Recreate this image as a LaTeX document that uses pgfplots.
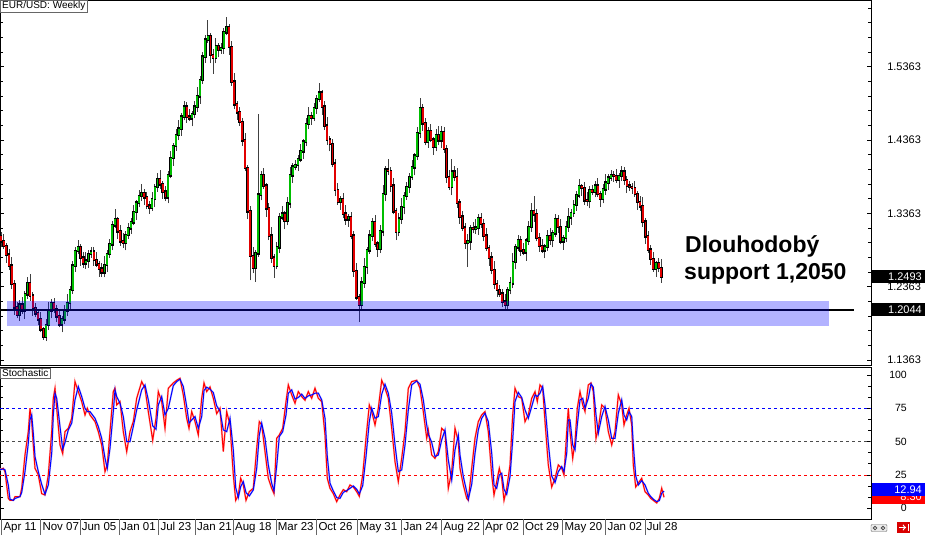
\documentclass[border=0pt]{standalone}
\usepackage{pgfplots}
\pgfplotsset{compat=1.18}
\usepackage{pgfplotstable}
\usepackage{fontspec}
\setmainfont{Liberation Sans}
\definecolor{cgreen}{RGB}{0,190,0}
\definecolor{cred}{RGB}{225,0,0}

\pgfplotstableread{
i o h l c
0 1.305 1.311 1.290 1.298
1 1.298 1.308 1.288 1.292
2 1.292 1.296 1.269 1.280
3 1.280 1.288 1.259 1.265
4 1.265 1.277 1.233 1.240
5 1.240 1.245 1.198 1.208
6 1.208 1.215 1.193 1.198
7 1.198 1.218 1.190 1.212
8 1.212 1.222 1.199 1.203
9 1.203 1.230 1.192 1.226
10 1.226 1.249 1.220 1.241
11 1.241 1.253 1.217 1.224
12 1.224 1.229 1.197 1.207
13 1.207 1.214 1.195 1.200
14 1.200 1.206 1.184 1.192
15 1.192 1.202 1.174 1.178
16 1.178 1.182 1.164 1.168
17 1.168 1.192 1.162 1.184
18 1.184 1.215 1.177 1.203
19 1.203 1.219 1.193 1.214
20 1.214 1.221 1.200 1.205
21 1.205 1.211 1.188 1.196
22 1.196 1.206 1.181 1.185
23 1.185 1.196 1.174 1.192
24 1.192 1.212 1.186 1.204
25 1.204 1.226 1.197 1.214
26 1.214 1.237 1.204 1.232
27 1.232 1.272 1.227 1.265
28 1.265 1.291 1.257 1.285
29 1.285 1.300 1.281 1.290
30 1.290 1.294 1.265 1.276
31 1.276 1.284 1.262 1.268
32 1.268 1.284 1.261 1.272
33 1.272 1.286 1.262 1.281
34 1.281 1.291 1.276 1.284
35 1.284 1.290 1.265 1.273
36 1.273 1.283 1.263 1.267
37 1.267 1.271 1.250 1.261
38 1.261 1.269 1.250 1.256
39 1.256 1.278 1.249 1.266
40 1.266 1.286 1.256 1.281
41 1.281 1.301 1.276 1.294
42 1.294 1.326 1.286 1.320
43 1.320 1.342 1.316 1.328
44 1.328 1.332 1.301 1.312
45 1.312 1.320 1.292 1.298
46 1.298 1.310 1.289 1.296
47 1.296 1.312 1.286 1.307
48 1.307 1.323 1.302 1.316
49 1.316 1.330 1.308 1.324
50 1.324 1.348 1.320 1.338
51 1.338 1.355 1.327 1.351
52 1.351 1.368 1.345 1.360
53 1.360 1.376 1.353 1.364
54 1.364 1.369 1.348 1.358
55 1.358 1.365 1.342 1.347
56 1.347 1.353 1.336 1.344
57 1.344 1.366 1.340 1.356
58 1.356 1.376 1.345 1.372
59 1.372 1.391 1.366 1.383
60 1.383 1.395 1.369 1.376
61 1.376 1.381 1.356 1.366
62 1.366 1.373 1.353 1.358
63 1.358 1.394 1.350 1.388
64 1.388 1.422 1.384 1.412
65 1.412 1.432 1.401 1.428
66 1.428 1.451 1.422 1.443
67 1.443 1.464 1.436 1.452
68 1.452 1.473 1.442 1.468
69 1.468 1.489 1.463 1.482
70 1.482 1.488 1.460 1.468
71 1.468 1.478 1.462 1.466
72 1.466 1.476 1.455 1.472
73 1.472 1.490 1.466 1.482
74 1.482 1.508 1.475 1.496
75 1.496 1.523 1.486 1.518
76 1.518 1.557 1.513 1.550
77 1.550 1.579 1.542 1.573
78 1.573 1.600 1.569 1.578
79 1.578 1.582 1.541 1.552
80 1.552 1.560 1.527 1.548
81 1.548 1.576 1.541 1.564
82 1.564 1.569 1.549 1.559
83 1.559 1.569 1.554 1.562
84 1.562 1.589 1.554 1.583
85 1.583 1.604 1.579 1.590
86 1.590 1.594 1.552 1.563
87 1.563 1.571 1.510 1.516
88 1.516 1.528 1.478 1.485
89 1.485 1.490 1.464 1.474
90 1.474 1.481 1.456 1.461
91 1.461 1.467 1.428 1.436
92 1.436 1.446 1.394 1.398
93 1.398 1.402 1.328 1.339
94 1.339 1.347 1.245 1.278
95 1.278 1.290 1.255 1.262
96 1.262 1.287 1.243 1.282
97 1.282 1.472 1.277 1.362
98 1.362 1.394 1.354 1.388
99 1.388 1.398 1.370 1.374
100 1.374 1.378 1.332 1.343
101 1.343 1.351 1.300 1.306
102 1.306 1.318 1.269 1.276
103 1.276 1.281 1.248 1.265
104 1.265 1.297 1.260 1.290
105 1.290 1.337 1.282 1.331
106 1.331 1.346 1.327 1.336
107 1.336 1.340 1.315 1.326
108 1.326 1.358 1.320 1.350
109 1.350 1.400 1.343 1.388
110 1.388 1.405 1.378 1.400
111 1.400 1.409 1.395 1.402
112 1.402 1.416 1.394 1.410
113 1.410 1.431 1.406 1.421
114 1.421 1.438 1.410 1.434
115 1.434 1.466 1.428 1.458
116 1.458 1.481 1.451 1.469
117 1.469 1.474 1.457 1.467
118 1.467 1.487 1.462 1.480
119 1.480 1.498 1.472 1.492
120 1.492 1.514 1.488 1.501
121 1.501 1.505 1.471 1.482
122 1.482 1.490 1.450 1.456
123 1.456 1.468 1.430 1.437
124 1.437 1.442 1.421 1.431
125 1.431 1.438 1.399 1.404
126 1.404 1.410 1.360 1.368
127 1.368 1.378 1.348 1.352
128 1.352 1.360 1.341 1.356
129 1.356 1.364 1.330 1.336
130 1.336 1.348 1.321 1.328
131 1.328 1.336 1.318 1.331
132 1.331 1.338 1.301 1.306
133 1.306 1.312 1.250 1.258
134 1.258 1.268 1.218 1.222
135 1.222 1.226 1.188 1.212
136 1.212 1.250 1.206 1.242
137 1.242 1.275 1.235 1.263
138 1.263 1.291 1.253 1.286
139 1.286 1.313 1.281 1.306
140 1.306 1.330 1.298 1.324
141 1.324 1.334 1.291 1.295
142 1.295 1.299 1.277 1.288
143 1.288 1.320 1.282 1.312
144 1.312 1.375 1.305 1.363
145 1.363 1.401 1.353 1.396
146 1.396 1.410 1.389 1.394
147 1.394 1.400 1.366 1.374
148 1.374 1.384 1.335 1.339
149 1.339 1.343 1.300 1.311
150 1.311 1.337 1.305 1.329
151 1.329 1.357 1.322 1.345
152 1.345 1.365 1.335 1.360
153 1.360 1.379 1.355 1.372
154 1.372 1.392 1.364 1.386
155 1.386 1.409 1.382 1.399
156 1.399 1.419 1.388 1.415
157 1.415 1.454 1.409 1.446
158 1.446 1.494 1.439 1.480
159 1.480 1.485 1.449 1.459
160 1.459 1.466 1.429 1.434
161 1.434 1.454 1.426 1.448
162 1.448 1.458 1.433 1.437
163 1.437 1.441 1.416 1.427
164 1.427 1.451 1.421 1.443
165 1.443 1.455 1.429 1.436
166 1.436 1.455 1.426 1.447
167 1.447 1.454 1.419 1.424
168 1.424 1.430 1.378 1.386
169 1.386 1.396 1.368 1.372
170 1.372 1.410 1.361 1.393
171 1.393 1.401 1.380 1.386
172 1.386 1.398 1.344 1.351
173 1.351 1.356 1.322 1.332
174 1.332 1.339 1.312 1.317
175 1.317 1.323 1.288 1.296
176 1.296 1.308 1.263 1.298
177 1.298 1.320 1.287 1.316
178 1.316 1.324 1.309 1.315
179 1.315 1.329 1.308 1.317
180 1.317 1.335 1.307 1.330
181 1.330 1.337 1.317 1.322
182 1.322 1.328 1.298 1.306
183 1.306 1.316 1.285 1.289
184 1.289 1.293 1.265 1.276
185 1.276 1.284 1.253 1.259
186 1.259 1.271 1.233 1.240
187 1.240 1.245 1.222 1.232
188 1.232 1.239 1.222 1.227
189 1.227 1.233 1.208 1.216
190 1.216 1.226 1.204 1.212
191 1.212 1.236 1.206 1.232
192 1.232 1.249 1.226 1.241
193 1.241 1.282 1.234 1.270
194 1.270 1.295 1.260 1.290
195 1.290 1.307 1.285 1.300
196 1.300 1.306 1.278 1.286
197 1.286 1.296 1.279 1.283
198 1.283 1.303 1.272 1.299
199 1.299 1.326 1.293 1.318
200 1.318 1.351 1.311 1.339
201 1.339 1.360 1.325 1.335
202 1.335 1.342 1.298 1.303
203 1.303 1.309 1.284 1.292
204 1.292 1.302 1.282 1.286
205 1.286 1.295 1.275 1.291
206 1.291 1.313 1.285 1.305
207 1.305 1.317 1.293 1.300
208 1.300 1.314 1.290 1.309
209 1.309 1.335 1.304 1.328
210 1.328 1.334 1.310 1.318
211 1.318 1.328 1.294 1.298
212 1.298 1.307 1.287 1.303
213 1.303 1.326 1.297 1.318
214 1.318 1.343 1.311 1.331
215 1.331 1.342 1.321 1.337
216 1.337 1.355 1.332 1.348
217 1.348 1.367 1.340 1.361
218 1.361 1.383 1.357 1.373
219 1.373 1.377 1.360 1.371
220 1.371 1.379 1.348 1.354
221 1.354 1.366 1.346 1.353
222 1.353 1.373 1.343 1.368
223 1.368 1.375 1.361 1.366
224 1.366 1.380 1.358 1.374
225 1.374 1.384 1.359 1.363
226 1.363 1.367 1.345 1.356
227 1.356 1.377 1.350 1.369
228 1.369 1.390 1.362 1.378
229 1.378 1.390 1.368 1.385
230 1.385 1.395 1.380 1.388
231 1.388 1.394 1.379 1.387
232 1.387 1.397 1.378 1.382
233 1.382 1.391 1.371 1.387
234 1.387 1.401 1.381 1.393
235 1.393 1.400 1.375 1.382
236 1.382 1.387 1.364 1.374
237 1.374 1.381 1.367 1.372
238 1.372 1.378 1.363 1.371
239 1.371 1.381 1.359 1.363
240 1.363 1.367 1.341 1.352
241 1.352 1.360 1.340 1.346
242 1.346 1.358 1.318 1.325
243 1.325 1.330 1.295 1.305
244 1.305 1.312 1.282 1.287
245 1.287 1.293 1.266 1.274
246 1.274 1.284 1.257 1.261
247 1.261 1.272 1.250 1.268
248 1.268 1.276 1.256 1.262
249 1.262 1.274 1.242 1.2493
}\candles

\pgfplotstableread{
x k d
0 29 29
3.3 30 29.5
5 27.5 28.8
8.3 7.5 17.5
10 6 6.8
13.3 6 6
15 8.75 7.4
20 8.75 8.8
21.7 15 11.9
25 40 27.5
28.3 57.5 48.8
30 75 66.3
31.7 65 70
33.3 47.5 56.3
35 30 38.8
38.3 25 27.5
41.7 11 18
45 10 10.5
48.3 25 17.5
51.7 57.5 41.3
53.3 82.5 70
55 90 86.3
56.7 75 82.5
60 47.5 61.3
62.7 41 44.3
65 57.5 49.3
68.3 60 58.8
71.7 67.5 63.8
75 95 81.3
78.3 87.5 91.3
81.7 80 83.8
85 70 75
87.3 75 72.5
90 70 72.5
95 65 67.5
98.3 57.5 61.3
101.7 47.5 52.5
105 27.5 37.5
107.3 32.5 30
110 57.5 45
113.3 87.5 72.5
115 90 88.8
116.7 77.5 83.8
120 80 78.8
123.3 57.5 68.8
126.7 42.5 50
130 57.5 50
133.3 65 61.3
136.7 82.5 73.8
141.7 95 88.8
145 90 92.5
148.3 72.5 81.3
152.7 51 61.8
156 67.5 59.3
158.3 87.5 77.5
161.7 80 83.8
165 60 70
168.3 90 75
173.3 94 92
176.7 96 95
180 97.5 96.8
183.3 85 91.3
186.7 67.5 76.3
189 60 63.8
191.7 72.5 66.3
195 65 68.8
198.3 55 60
201.7 82.5 68.8
204 94 88.3
206.7 87.5 90.8
210 91 89.3
213.3 82.5 86.8
216.7 71 76.8
220 75 73
223.3 42.5 58.8
226.7 72.5 57.5
230 62.5 67.5
233.3 25 43.8
235.7 6 15.5
238.3 10 8
240.7 22.5 16.3
243.3 17.5 20
246 6 11.8
249.3 12.5 9.3
253.3 15 13.8
256.7 45 30
259.3 65 55
261.7 62.5 63.8
265 42.5 52.5
268.3 22.5 32.5
271.7 15 18.8
274 11 13
276.7 52.5 31.8
279.3 55 53.8
282.7 60 57.5
286 80 70
288.3 92.5 86.3
291.7 85 88.8
295 78.75 81.9
298.3 87.5 83.1
301.7 83.75 85.6
305 81 82.4
308.3 87.5 84.3
311.7 82.5 85
315 90 86.3
318.3 82.5 86.3
321.7 80 81.3
325 55 67.5
327.3 22.5 38.8
330 15 18.8
333.3 11 13
336.7 5 8
340 10 7.5
343.3 14 12
346.7 12.5 13.3
350 17.5 15
353.3 16 16.8
356.7 12.5 14.3
359.3 9 10.8
362.7 25 17
366 52.5 38.8
369.3 77.5 65
371.7 72.5 75
375 62.5 67.5
378.3 75 68.8
381.7 96 85.5
385 90 93
388.3 82.5 86.3
391.7 60 71.3
395 35 47.5
398.3 20 27.5
401.7 37.5 28.8
405 57.5 47.5
408.3 90 73.8
411.7 95 92.5
416.7 96 95.5
420 90 93
423.3 72.5 81.3
426.7 52.5 62.5
428.3 58.75 55.6
431.7 40 49.4
435 37.5 38.8
438.3 42.5 40
441.7 60 51.3
445 57.5 58.8
448.3 15 36.3
451.7 27.5 21.3
455 60 43.8
458.3 50 55
460 30 40
463.3 17.5 23.8
466.7 7.5 12.5
468.3 6 6.8
471.7 30 18
475 52.5 41.3
478.3 65 58.8
481.7 70 67.5
485 72.5 71.3
488.3 57.5 65
491.7 25 41.3
494 10 17.5
496.7 20 15
499.3 30 25
501.7 22.5 26.3
504 6 14.3
506.7 15 10.5
510 32.5 23.8
512.7 70 51.3
515 90 80
518.3 83.75 86.9
521.7 82.5 83.1
525 65 73.8
528.3 70 67.5
531.7 82.5 76.3
535 87.5 85
537.3 80 83.8
540 92.5 86.3
542.7 90 91.3
545 65 77.5
548.3 32.5 48.8
551.7 16 24.3
555 22.5 19.3
558.3 32.5 27.5
561.7 30 31.3
564 25 27.5
566.7 57.5 41.3
568.3 75 66.3
570 57.5 66.3
572.7 37.5 47.5
575 50 43.8
577.3 75 62.5
580 87.5 81.3
582.7 77.5 82.5
585 72.5 75
588.3 92.5 82.5
591 94 93.3
593.3 87.5 90.8
596 52.5 70
598.3 60 56.3
601.7 77.5 68.8
605 75 76.3
608.3 57.5 66.3
611.7 47.5 52.5
615 57.5 52.5
618.3 85 71.3
621.7 77.5 81.3
624 62.5 70
626.7 70 66.3
629 75 72.5
631.7 62.5 68.8
633.3 32.5 47.5
635.7 16 24.3
638.3 19 17.5
641.7 22.5 20.8
645 12.5 17.5
648.3 10 11.3
650.7 7.5 8.8
653.3 6 6.8
656.7 4 5
659.3 7.5 5.8
661.7 15 11.3
664 8.3 12.94
}\stoch

\begin{document}
\begin{tikzpicture}
\useasboundingbox (0pt,0pt) rectangle (925pt,535pt);
\begin{axis}[
  at={(0pt,169pt)}, anchor=south west, scale only axis,
  width=871pt, height=365pt,
  xmin=-0.377, xmax=328.06, ymin=1.1282, ymax=1.6259,
  xtick=\empty,
  ytick={1.1363,1.2363,1.3363,1.4363,1.5363},
  minor ytick={1.1563,1.1763,1.1963,1.2163,1.2563,1.2763,1.2963,1.3163,1.3563,1.3763,1.3963,1.4163,1.4563,1.4763,1.4963,1.5163,1.5563,1.5763,1.5963,1.6163},
  ytick pos=both, yticklabel pos=right,
  tick align=inside, major tick length=4pt, minor tick length=3pt,
  tick style={black, line width=0.8pt},
  yticklabel style={font=\fontsize{11}{13}\selectfont, anchor=west, xshift=12.7pt,
    /pgf/number format/.cd, fixed, fixed zerofill, precision=4, assume math mode=true},
  axis line style={line width=1pt},
  colormap={rg}{color=(cred) color=(cgreen)},
  point meta min=-0.0001, point meta max=0.0001,
]
\addplot[quiver={u=0, v=\thisrow{h}-\thisrow{l}, every arrow/.append style={draw=black!75, line width=0.75pt}}] table[x=i, y=l] {\candles};
\addplot[quiver={u=0, v=\thisrow{c}-\thisrow{o}, every arrow/.append style={draw=black, line width=2.6pt, line cap=rect}}] table[x=i, y=o] {\candles};
\addplot[quiver={u=0, v=\thisrow{c}-\thisrow{o}, every arrow/.append style={draw=mapped color, line width=1.8pt}}, point meta=\thisrow{c}-\thisrow{o}] table[x=i, y=o] {\candles};
\addplot[black, line width=1.4pt] coordinates {(-0.377,1.2044) (321.6,1.2044)};
\addplot[draw=none, fill=blue, fill opacity=0.3] coordinates {(2.26,1.1831) (312.2,1.1831) (312.2,1.2168) (2.26,1.2168)} -- cycle;
\end{axis}

\begin{axis}[
  at={(0pt,16pt)}, anchor=south west, scale only axis,
  width=871pt, height=151pt,
  xmin=0, xmax=871, ymin=-8, ymax=105.2,
  ytick={0,25,50,75,100},
  minor ytick={8.33,16.67,33.33,41.67,58.33,66.67,83.33,91.67},
  ytick pos=both, yticklabel pos=right,
  tick align=inside, major tick length=4pt, minor tick length=3pt,
  tick style={black, line width=0.8pt},
  yticklabel style={font=\fontsize{10.5}{12}\selectfont, anchor=east, xshift=39.3pt,
    /pgf/number format/assume math mode=true},
  xtick={1.7,40.7,80,119.3,158.7,195.3,233.3,276,316.7,357.7,401.7,441.7,483.3,523.3,562.7,605.7,645},
  xticklabels={Apr 11,Nov 07,Jun 05,Jan 01,Jul 23,Jan 21,Aug 18,Mar 23,Oct 26,May 31,Jan 24,Aug 22,Apr 02,Oct 29,May 20,Jan 02,Jul 28},
  every major x tick/.append style={draw=none},
  xticklabel style={font=\fontsize{11.5}{13}\selectfont, anchor=north west, xshift=-1.7pt},
  axis line style={line width=1pt},
]
\addplot[blue, line width=0.8pt, dash pattern=on 3pt off 3pt] coordinates {(0,75) (871,75)};
\addplot[black!70, line width=0.8pt, dash pattern=on 3pt off 3pt] coordinates {(0,50) (871,50)};
\addplot[red, line width=0.8pt, dash pattern=on 3pt off 3pt] coordinates {(0,25) (871,25)};
\addplot[red!30, line width=1.8pt] table[x=x, y=k] {\stoch};
\addplot[blue!25, line width=1.8pt] table[x=x, y=d] {\stoch};
\addplot[red, line width=1pt] table[x=x, y=k] {\stoch};
\addplot[blue, line width=1pt] table[x=x, y=d] {\stoch};
\end{axis}

\foreach \xx in {1.7,40.7,80,119.3,158.7,195.3,233.3,276,316.7,357.7,401.7,441.7,483.3,523.3,562.7,605.7,645}
  \draw[black!60, line width=0.8pt] (\xx pt,0pt) -- (\xx pt,16pt);

\node[fill=black, text=white, anchor=east, inner xsep=3pt, inner ysep=0pt, minimum height=13pt, text width=47pt, align=right, font=\fontsize{11}{13}\selectfont] at (925pt,258pt) {1.2493};
\node[fill=black, text=white, anchor=east, inner xsep=3pt, inner ysep=0pt, minimum height=13pt, text width=47pt, align=right, font=\fontsize{11}{13}\selectfont] at (925pt,225pt) {1.2044};
\node[fill=red, text=white, anchor=east, inner xsep=3pt, inner ysep=0pt, minimum height=13pt, text width=47pt, align=right, font=\fontsize{11}{13}\selectfont] at (925pt,38pt) {8.30};
\node[fill=blue, text=white, anchor=east, inner xsep=3pt, inner ysep=0pt, minimum height=13pt, text width=47pt, align=right, font=\fontsize{11}{13}\selectfont] at (925pt,45.3pt) {12.94};

\node[anchor=base west, inner sep=0pt, font=\fontsize{23}{27}\selectfont\bfseries] at (685pt,282.3pt) {Dlouhodobý};
\node[anchor=base west, inner sep=0pt, font=\fontsize{23}{27}\selectfont\bfseries] at (684pt,255pt) {support 1,2050};

\node[anchor=north west, draw=black!60, fill=white, inner xsep=2pt, inner ysep=1.5pt, font=\fontsize{10}{11}\selectfont] at (0pt,535pt) {EUR/USD: Weekly};
\node[anchor=north west, draw=black!60, fill=white, inner xsep=2pt, inner ysep=1.5pt, font=\fontsize{10}{11}\selectfont] at (0pt,167pt) {Stochastic};

\draw[fill=black!8, draw=black!60, rounded corners=1pt] (871pt,3.5pt) rectangle (887pt,10.5pt);
\draw[black!70, line width=0.8pt] (875pt,7pt) circle (1.8pt) (883pt,7pt) circle (1.8pt);
\fill[red!85!black] (897pt,1.7pt) rectangle (910pt,13.3pt);
\draw[white, line width=1.2pt, ->] (899pt,7.5pt) -- (906pt,7.5pt);
\draw[white, line width=1pt] (908pt,4pt) -- (908pt,11pt);
\end{tikzpicture}
\end{document}
